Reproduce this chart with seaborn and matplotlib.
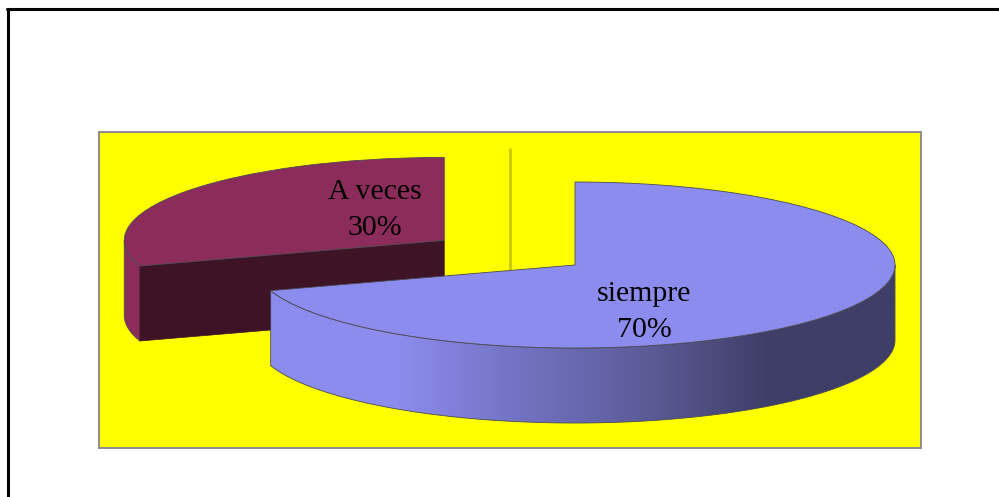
import numpy as np
import matplotlib
matplotlib.use('Agg')
import matplotlib.pyplot as plt
from matplotlib.lines import Line2D
from matplotlib.patches import Polygon
import seaborn as sns

labels = ['siempre', 'A veces']
values = [70, 30]
top_colors = ['#8c8cee', '#8b2c5a']
side_stops = ['#8c8cee', '#8c8cee', '#7272c2', '#5c5c98', '#3e3e68', '#3e3e68']

W, H = 999, 497
# the pie ellipse in pixels, the axes use its radii as units
CX, CY, RX, RY = 575, 265, 320, 83
DEPTH = 75 / RY
EDGE = '#4a4a55'

sns.set_theme(style='white')
plt.rcParams['font.family'] = ['Liberation Serif', 'DejaVu Serif']

fig = plt.figure(figsize=(W / 100, H / 100), dpi=100, facecolor='white')
ax = fig.add_axes([99 / W, (H - 448) / H, 822 / W, 316 / H], facecolor='#ffff00')


def to_x(px):
    return (px - CX) / RX


def to_y(py):
    return (CY - py) / RY


def arc(wedge, a0, a1, drop=0):
    t = np.radians(np.linspace(a0, a1, 200))
    cx, cy = wedge.center
    return np.column_stack([cx + wedge.r * np.cos(t), cy - drop + wedge.r * np.sin(t)])


wedges, _ = ax.pie(values, colors=top_colors, startangle=90, counterclock=False,
                   explode=[0, 0.505], frame=True,
                   wedgeprops={'edgecolor': EDGE, 'linewidth': 0.6})
blue, red = wedges
blue.set_zorder(6)
red.set_zorder(4)

# leader line behind the slices
ax.plot([to_x(510)] * 2, [to_y(149), to_y(270)], color='#c8c800', lw=2.0, zorder=1)

# red slice: short rim on the left, dark cut face
rim_pts = np.vstack([arc(red, 180, 198), arc(red, 198, 180, DEPTH)])
ax.add_patch(Polygon(rim_pts, closed=True, fc=top_colors[1], ec=EDGE, lw=0.6, zorder=2))
corner = arc(red, 198, 198)[0]
cut = [red.center, corner, (corner[0], corner[1] - DEPTH), (red.center[0], red.center[1] - DEPTH)]
ax.add_patch(Polygon(cut, closed=True, fc='#3f1326', ec='#3f1326', lw=0.5, zorder=3))

# blue slice: rim with the shading running left to right
rim_pts = np.vstack([arc(blue, -162, 0), arc(blue, 0, -162, DEPTH)])
rim = Polygon(rim_pts, closed=True, fc='none', ec=EDGE, lw=0.6, zorder=5)
ax.add_patch(rim)
shade = ax.imshow(np.linspace(0, 1, 256)[None, :], cmap=sns.blend_palette(side_stops, as_cmap=True),
                  extent=[to_x(271), to_x(895), to_y(430), to_y(260)], aspect='auto', zorder=4.5)
shade.set_clip_path(rim)

ax.text(to_x(375), to_y(210), f'{labels[1]}\n{values[1]}%', ha='center', va='center',
        fontsize=21.5, linespacing=1.5, color='black', zorder=8)
ax.text(to_x(644), to_y(312), f'{labels[0]}\n{values[0]}%', ha='center', va='center',
        fontsize=21.5, linespacing=1.5, color='black', zorder=8)

ax.set_aspect('auto')
ax.set_xlim(to_x(99), to_x(921))
ax.set_ylim(to_y(448), to_y(132))
ax.set_xticks([])
ax.set_yticks([])
for s in ax.spines.values():
    s.set_visible(True)
    s.set_color('#8c8c8c')
    s.set_linewidth(1.4)

# outer black frame, only left and top inside the picture
fig.add_artist(Line2D([8 / W, 8 / W], [0, (H - 9) / H], color='black', lw=2.2))
fig.add_artist(Line2D([7 / W, 1], [(H - 9) / H, (H - 9) / H], color='black', lw=2.2))

fig.savefig('out.png', dpi=100)
